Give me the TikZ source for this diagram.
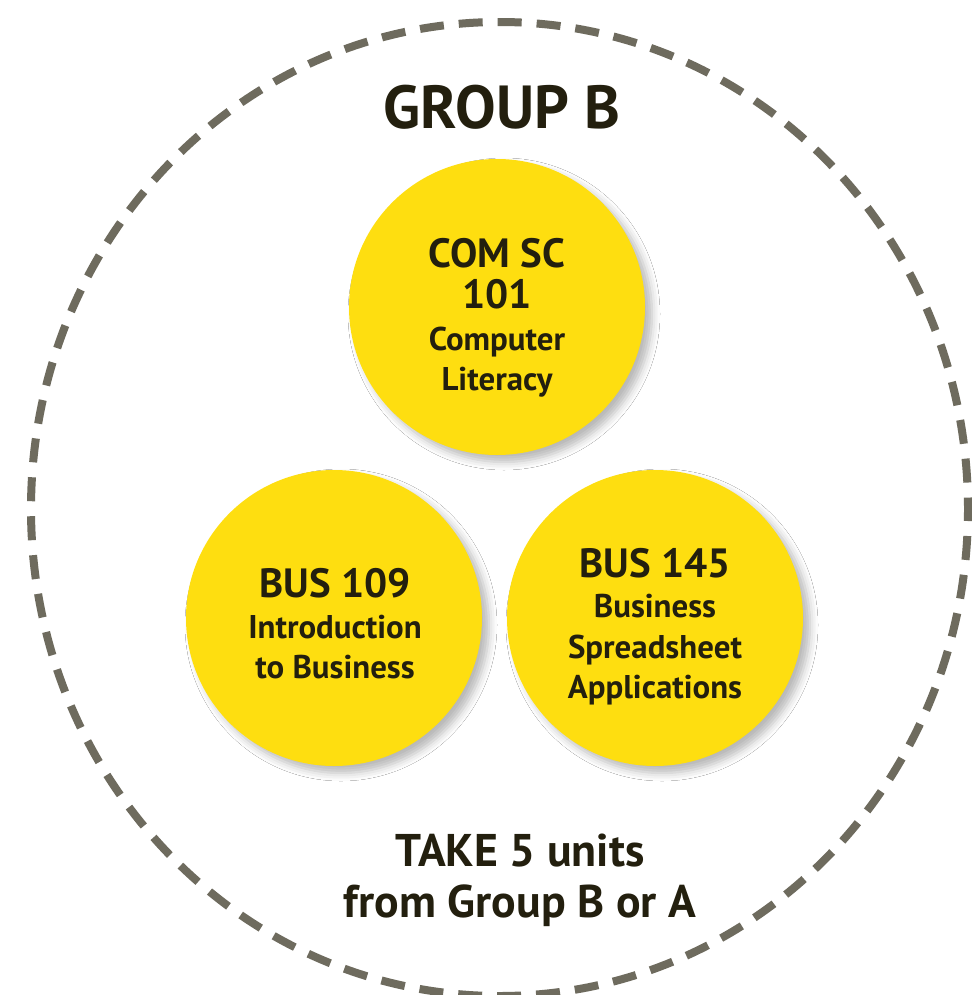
\documentclass[tikz,border=0pt]{standalone}
\usepackage{fontspec}
\setmainfont{PT Sans}
\usetikzlibrary{shadows.blur}
\definecolor{cyellow}{RGB}{254,222,16}
\definecolor{cdark}{RGB}{35,31,14}
\definecolor{cdash}{RGB}{110,107,94}
\tikzset{
  course/.style={circle, fill=cyellow, minimum size=296bp, inner sep=0pt,
    blur shadow={shadow xshift=7bp, shadow yshift=-7bp, shadow blur radius=8bp, shadow opacity=28}},
  txt/.style={anchor=base, inner sep=0pt, text=cdark, font=\bfseries},
  big/.style={txt, font=\bfseries\fontsize{41}{41}\selectfont},
  small/.style={txt, font=\bfseries\fontsize{33}{33}\selectfont},
  title/.style={txt, font=\bfseries\fontsize{61}{61}\selectfont},
  foot/.style={txt, font=\bfseries\fontsize{46}{46}\selectfont},
  ring/.style={draw=cdash, line width=8bp, dash pattern=on 24bp off 15bp, dash phase=12bp}
}
\begin{document}
\begin{tikzpicture}[x=1bp, y=-1bp]
\useasboundingbox (0,0) rectangle (972,995);
\fill[white] (0,0) rectangle (972,995);
\draw[ring] (499.5,509) ellipse [x radius=468.5, y radius=487];

\node[title] (title) at (502,128) {GROUP B};

\node[course] (com) at (497,307) {};
\node[course] (b109) at (334,618) {};
\node[course] (b145) at (655,618) {};

\node[big] (com1) at (497,267) {COM SC};
\node[big] (com2) at (497,308) {101};
\node[small] (com3) at (497,350) {Computer};
\node[small] (com4) at (497,390) {Literacy};

\node[big] (l1) at (335,597) {BUS 109};
\node[small] (l2) at (335,638) {Introduction};
\node[small] (l3) at (335,678) {to Business};

\node[big] (r1) at (655,577) {BUS 145};
\node[small] (r2) at (655,617) {Business};
\node[small] (r3) at (655,658) {Spreadsheet};
\node[small] (r4) at (655,698) {Applications};

\node[foot] (f1) at (520,866) {TAKE 5 units};
\node[foot] (f2) at (520,917) {from Group B or A};
\end{tikzpicture}
\end{document}
